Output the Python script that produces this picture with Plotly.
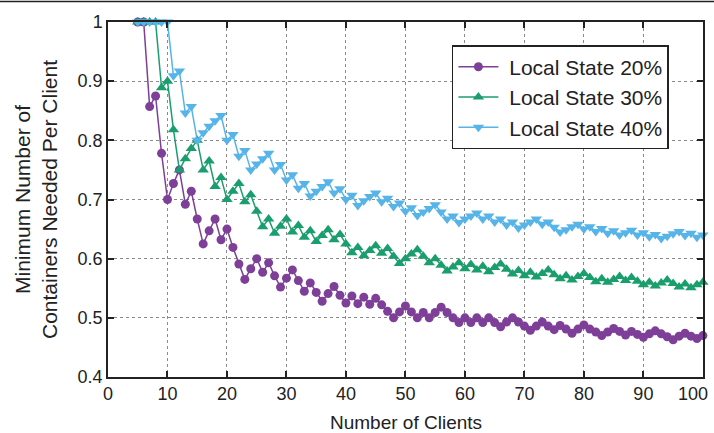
import plotly.graph_objects as go

clients = list(range(5, 101))

local_state_20 = [
    1.000, 1.000, 0.857, 0.875, 0.778, 0.700, 0.727, 0.750, 0.692, 0.714,  # 5-14
    0.667, 0.625, 0.647, 0.667, 0.632, 0.650, 0.619, 0.591, 0.565, 0.583,  # 15-24
    0.600, 0.577, 0.593, 0.571, 0.552, 0.567, 0.581, 0.563, 0.545, 0.559,  # 25-34
    0.543, 0.528, 0.541, 0.553, 0.538, 0.525, 0.537, 0.524, 0.535, 0.523,  # 35-44
    0.533, 0.522, 0.511, 0.500, 0.510, 0.520, 0.510, 0.500, 0.509, 0.500,  # 45-54
    0.509, 0.518, 0.509, 0.500, 0.492, 0.500, 0.492, 0.500, 0.492, 0.500,  # 55-64
    0.492, 0.485, 0.493, 0.500, 0.493, 0.486, 0.479, 0.486, 0.493, 0.486,  # 65-74
    0.480, 0.487, 0.481, 0.474, 0.481, 0.488, 0.481, 0.476, 0.470, 0.476,  # 75-84
    0.482, 0.477, 0.471, 0.477, 0.472, 0.467, 0.473, 0.478, 0.473, 0.468,  # 85-94
    0.463, 0.469, 0.474, 0.469, 0.465, 0.470,                              # 95-100
]

local_state_30 = [
    1.000, 1.000, 1.000, 1.000, 0.889, 0.900, 0.818, 0.750, 0.769, 0.786,  # 5-14
    0.800, 0.750, 0.765, 0.722, 0.737, 0.700, 0.714, 0.727, 0.696, 0.708,  # 15-24
    0.680, 0.654, 0.667, 0.643, 0.655, 0.667, 0.645, 0.656, 0.636, 0.647,  # 25-34
    0.629, 0.639, 0.649, 0.632, 0.641, 0.625, 0.610, 0.619, 0.605, 0.614,  # 35-44
    0.622, 0.609, 0.617, 0.604, 0.592, 0.600, 0.608, 0.615, 0.604, 0.593,  # 45-54
    0.600, 0.589, 0.579, 0.586, 0.593, 0.583, 0.590, 0.581, 0.587, 0.578,  # 55-64
    0.585, 0.591, 0.582, 0.574, 0.580, 0.571, 0.577, 0.569, 0.575, 0.581,  # 65-74
    0.573, 0.566, 0.571, 0.564, 0.570, 0.575, 0.568, 0.561, 0.566, 0.560,  # 75-84
    0.565, 0.570, 0.563, 0.568, 0.562, 0.556, 0.560, 0.554, 0.559, 0.564,  # 85-94
    0.558, 0.552, 0.557, 0.551, 0.556, 0.560,                              # 95-100
]

local_state_40 = [
    1.000, 1.000, 1.000, 1.000, 1.000, 1.000, 0.909, 0.917, 0.846, 0.857,  # 5-14
    0.800, 0.813, 0.824, 0.833, 0.842, 0.800, 0.810, 0.773, 0.783, 0.750,  # 15-24
    0.760, 0.769, 0.778, 0.750, 0.759, 0.733, 0.742, 0.719, 0.727, 0.706,  # 25-34
    0.714, 0.722, 0.730, 0.711, 0.718, 0.700, 0.707, 0.690, 0.698, 0.705,  # 35-44
    0.711, 0.696, 0.702, 0.688, 0.694, 0.680, 0.686, 0.673, 0.679, 0.685,  # 45-54
    0.691, 0.679, 0.667, 0.672, 0.661, 0.667, 0.672, 0.677, 0.667, 0.672,  # 55-64
    0.662, 0.667, 0.657, 0.662, 0.652, 0.657, 0.662, 0.667, 0.658, 0.662,  # 65-74
    0.653, 0.645, 0.649, 0.654, 0.658, 0.650, 0.654, 0.646, 0.651, 0.643,  # 75-84
    0.647, 0.640, 0.644, 0.648, 0.640, 0.644, 0.637, 0.641, 0.634, 0.638,  # 85-94
    0.642, 0.646, 0.639, 0.643, 0.636, 0.640,                              # 95-100
]

series_names = ["Local State 20%", "Local State 30%", "Local State 40%"]
x_ticks = [0, 10, 20, 30, 40, 50, 60, 70, 80, 90, 100]
x_tick_labels = ["0", "10", "20", "30", "40", "50", "60", "70", "80", "90", "100"]
y_ticks = [0.4, 0.5, 0.6, 0.7, 0.8, 0.9, 1.0]
y_tick_labels = ["0.4", "0.5", "0.6", "0.7", "0.8", "0.9", "1"]
x_title = "Number of Clients"
y_title = "Minimum Number of<br>Containers Needed Per Client"

colors = ["#7E3F98", "#1B9E6E", "#56B4E9"]
symbols = ["circle", "triangle-up", "triangle-down"]
sizes = [9, 10, 10]

fig = go.Figure()
for name, vals, c, s, sz in zip(series_names,
                                [local_state_20, local_state_30, local_state_40],
                                colors, symbols, sizes):
    fig.add_trace(go.Scatter(
        x=clients, y=vals, name="\u00a0" + name, mode="lines+markers",
        line=dict(color=c, width=1.5),
        marker=dict(color=c, symbol=s, size=sz, line=dict(width=0)),
        cliponaxis=False,
    ))

# the last x label sits right-aligned at its tick (kept inside the page, as in the reference)
shown_x_labels = x_tick_labels[:-1] + [""]

font_family = "Liberation Sans, Arial, Helvetica, sans-serif"
axis_common = dict(
    showline=True, linecolor="#222", linewidth=1.5, mirror="ticks",
    ticks="inside", ticklen=6, tickcolor="#222", tickwidth=1.5,
    showgrid=True, gridcolor="#8a8a8a", gridwidth=1, griddash="3px,3px",
    zeroline=False, tickfont=dict(size=18, color="#222"),
    ticklabeloverflow="allow",
)

fig.update_layout(
    width=714, height=433,
    margin=dict(l=108, r=9, t=22, b=56),
    paper_bgcolor="white", plot_bgcolor="white",
    font=dict(family=font_family, color="#222"),
    xaxis=dict(range=[0, 100.02], tickvals=x_ticks, ticktext=shown_x_labels,
               automargin=False, **axis_common),
    yaxis=dict(range=[0.4, 1.0], tickvals=y_ticks, ticktext=y_tick_labels,
               title=dict(text=y_title, font=dict(size=21), standoff=14),
               **axis_common),
    legend=dict(x=0.578, y=0.935, xanchor="left", yanchor="top",
                bgcolor="white", bordercolor="#222", borderwidth=1.5,
                font=dict(size=21, color="#222"),
                tracegroupgap=0, itemwidth=40),
    showlegend=True,
    annotations=[
        dict(text=x_title, xref="paper", yref="paper",
             x=0.5, y=-0.128, xanchor="center", yanchor="middle",
             showarrow=False, font=dict(size=19, color="#222")),
        dict(text=x_tick_labels[-1], xref="x", yref="paper",
             x=x_ticks[-1], y=-0.048, xanchor="right", yanchor="middle",
             xshift=7, showarrow=False, font=dict(size=18, color="#222")),
    ],
    shapes=[dict(type="line", xref="paper", yref="paper",
                 x0=-0.185, x1=1.02, y0=1.058, y1=1.058,
                 line=dict(color="#222", width=1.5))],
)

fig.write_html("out.html",
               config={"displayModeBar": False},
               post_script="document.body.style.margin='0';document.body.style.overflow='hidden';")
